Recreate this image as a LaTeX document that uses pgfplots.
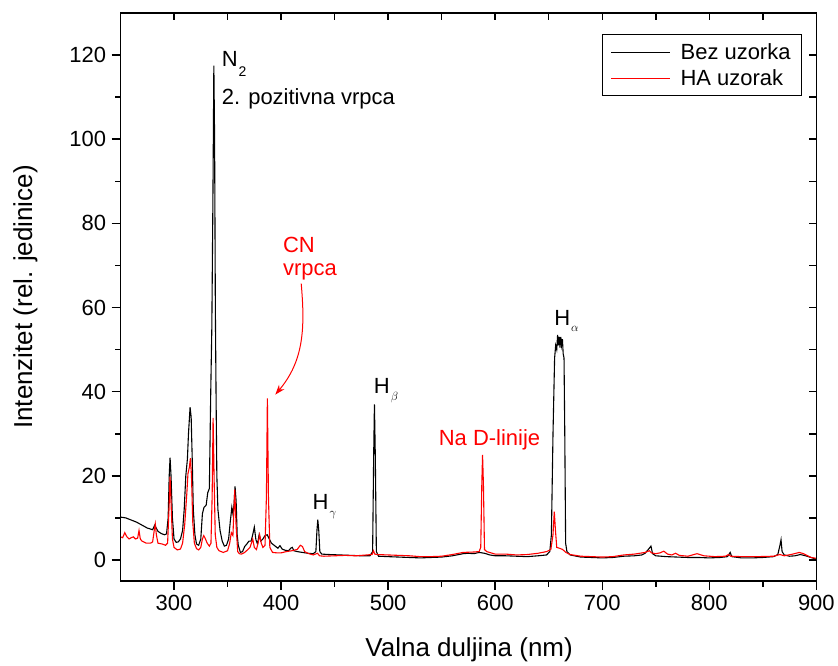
\documentclass[border=0pt]{standalone}
\usepackage{fontspec}
\setmainfont{Liberation Sans}
\usepackage{pgfplots}
\pgfplotsset{compat=1.18}
\usetikzlibrary{arrows.meta}
\definecolor{myred}{RGB}{255,0,0}

\pgfplotstableread{
x y
250 10.2
255 10.0
260 9.5
265 9.0
270 8.3
275 7.6
280 7.2
282 8.3
285 6.8
288 6.3
291 6.0
293 6.2
294.5 10
295.5 20
296.3 24.3
297.2 20
298.5 10
300 5.0
302 4.2
304 4.3
306 5.0
308 7
309.5 12
311 20
312.5 24
313.5 30
315 36.3
316 34
317 24
318 12
319.5 6
321 3.8
323 3.5
325 5
326.5 11
328 12.5
330 13
331.5 16
333 17
334.3 40
335.3 55
336.3 85
337.2 117.5
337.9 100
338.6 60
339.3 38
340 20
341 12
343 7
345 4.5
347 3.3
349 3.5
351 5
352.5 9
354 12.5
355 11
356 13
357 17.5
358 14
359 6
360 3.5
362 1.8
364 2
366 3.2
368 3.8
370 4.5
372 4.5
373.5 6
375 7.8
376.5 4.8
378 3.8
379.5 6
381 4.5
383 5
385 5.8
387 6
389 5
391 4
393 3.6
395 3.2
397 2.8
399 3.4
401 2.6
404 2.3
407 2.2
409 2.8
410.5 3.0
412 2.2
415 2.0
420 1.8
425 1.6
430 1.5
432.5 2
433.5 7
434.3 9.6
435.2 7
436.2 2
438 1.4
445 1.3
455 1.2
465 1.1
475 1.0
483 1.0
485.5 2
486.5 25
487.2 37
488 25
489 2
491 0.9
500 0.8
510 0.7
520 0.6
530 0.5
540 0.6
550 0.7
560 1.0
570 1.5
575 1.6
580 1.5
585 1.8
590 1.6
595 1.2
600 1.0
610 1.0
620 0.9
630 0.8
640 1.0
648 1.2
651 2
652.5 6
654 30
655.5 48
656.5 51
657.5 50
658.3 53.5
659 51
659.8 53
660.5 50.5
661.3 53
662 51
662.8 52.5
663.5 49
664.3 48
665 30
665.8 4
667 2
670 1.2
680 0.7
690 0.6
700 0.5
710 0.6
720 0.9
730 1.0
737 1.2
740 1.6
743 2.5
745.5 3.3
747 1.5
750 1.0
760 0.8
770 0.7
780 0.6
790 0.6
800 0.5
810 0.6
817 0.8
819.5 1.8
821 0.8
830 0.5
840 0.5
850 0.6
860 0.8
864 1.3
866 3.5
867 4.8
868 2
870 1.2
875 0.9
880 1.0
885 1.3
890 1.0
895 0.6
900 0.2
}\bez

\pgfplotstableread{
x y
250 5.5
252 5.3
254 6.5
256 5.5
258 5.0
260 5.3
262 5.5
264 5.0
266 5.2
267.3 7.0
268.5 5.0
270 4.5
274 4.0
278 4.0
280 4.3
281.5 7
282.5 8.6
283.5 6
285 4
289 3.8
292 3.5
294 4
295.3 12
296.3 19.8
297.3 13
298.5 5
300 3
303 2.4
306 2.6
308 4
310 8.5
312 16
313 20.5
314.3 22
315.3 24.2
316.3 20
317.5 9
319 4
321 2.7
323 2.4
325 3
326.5 5
327.8 5.8
329 5.2
331 4
333 3.3
334.5 4
335.6 15
336.5 33.8
337.4 20
338.5 6
340 3
342 2.2
346 1.8
350 2.2
352 4
353.5 6.5
355 5.8
356.7 16.7
358 8
359.5 2
361 1.5
363 1.4
366 1.8
369 2.5
371 3
373.5 5
375 3
377 2.5
378.5 4
380 6
381.5 4
383 3
385 3.5
386.3 15
387.2 38.4
388.2 15
389.5 3
392 1.8
396 1.7
400 1.7
405 2
410 2.2
415 2.5
418 3.5
420 3.2
422 2.0
426 1.5
430 1.2
434 1.6
436 1.0
440 0.9
450 1.0
460 1.1
470 1.0
480 1.2
485 1.3
486.3 2.2
487.5 1.4
490 1.3
500 1.2
510 1.1
520 1.0
530 0.8
540 0.8
550 0.9
560 1.3
570 1.8
580 1.9
585 2.0
586.5 3
587.5 18
588.2 25
589 18
590 2.5
592 2
600 1.4
610 1.4
620 1.2
630 1.3
640 1.6
648 2
652 2.5
654 6
655.2 11.5
656.3 7
657.5 3
660 2.8
663 2.5
666 1.8
670 1.3
680 0.9
690 0.8
700 0.7
710 0.8
720 1.2
730 1.4
735 1.6
740 1.8
744 2.2
746 1.7
750 1.5
754 1.7
757.5 2.1
761 1.4
765 1.2
768.5 1.6
772 1.1
780 0.9
788.5 1.5
795 1.0
805 0.8
815 0.9
818 1.3
820 0.9
830 0.8
845 0.8
860 0.9
866 1.3
870 1.0
878 1.4
884 1.8
888 1.5
895 0.6
900 0.4
}\ha

\begin{document}
\begin{tikzpicture}
\begin{axis}[
  scale only axis, width=697pt, height=569pt,
  xmin=250, xmax=900, ymin=-5, ymax=130,
  xtick={300,400,...,900}, ytick={0,20,...,120},
  minor x tick num=1, minor y tick num=1,
  xtick pos=left, ytick pos=left,
  tick align=outside,
  major tick length=9pt, minor tick length=5.5pt,
  tick style={line width=1.5pt, black},
  axis line style={line width=1.6pt},
  tick label style={font=\fontsize{22}{26}\selectfont},
  xticklabel style={yshift=-2pt},
  yticklabel style={xshift=-2pt},
  /pgf/number format/assume math mode=true,
  label style={font=\fontsize{26}{30}\selectfont},
  xlabel={Valna duljina (nm)},
  ylabel={Intenzitet (rel. jedinice)},
  xlabel style={at={(axis description cs:0.501,-0.133)}, anchor=base},
  ylabel style={at={(axis description cs:-0.127,0.5)}, anchor=base},
  clip=false,
  legend style={at={(axis description cs:0.9785,0.9626)}, anchor=north east,
    draw=black, line width=0.8pt, font=\fontsize{22}{26}\selectfont,
    inner xsep=8.5pt, inner ysep=7pt, row sep=4.5pt,
    /tikz/every odd column/.append style={column sep=8pt}},
  legend cell align=left,
  legend image code/.code={\path (0pt,0pt) -- (7pt,0pt);\draw[#1] (7pt,0pt) -- (59pt,0pt);},
]
\addplot[black, line width=1.1pt] table[x=x,y=y] {\bez};
\addlegendentry{Bez uzorka}
\addplot[myred, line width=1.1pt] table[x=x,y=y] {\ha};
\addlegendentry{HA uzorak}

\node[anchor=base west, inner sep=0pt, font=\fontsize{22}{26}\selectfont] at (axis cs:344.5,117.3) {N\kern1pt\raisebox{-10pt}{\fontsize{14}{14}\selectfont 2}};
\node[anchor=base west, inner sep=0pt, font=\fontsize{22}{26}\selectfont] at (axis cs:344.5,108.3) {2. pozitivna vrpca};
\node[anchor=base west, inner sep=0pt, font=\fontsize{22}{26}\selectfont, text=myred] at (axis cs:401.7,73.1) {CN};
\node[anchor=base west, inner sep=0pt, font=\fontsize{22}{26}\selectfont, text=myred] at (axis cs:401.7,67.6) {vrpca};
\draw[myred, line width=1pt, -{Stealth[length=10pt,width=7pt]}] (axis cs:418.8,65.7) to[out=-85,in=50] (axis cs:394.6,39.3);
\node[anchor=base west, inner sep=0pt, font=\fontsize{22}{26}\selectfont, text=myred] at (axis cs:547.2,27.1) {Na D-linije};
\node[anchor=base west, inner sep=0pt, font=\fontsize{22}{26}\selectfont] at (axis cs:429.3,12.1) {H\kern1pt\raisebox{-7pt}{\fontsize{13}{13}\selectfont$\gamma$}};
\node[anchor=base west, inner sep=0pt, font=\fontsize{22}{26}\selectfont] at (axis cs:486.6,39.5) {H\kern1pt\raisebox{-7pt}{\fontsize{13}{13}\selectfont$\beta$}};
\node[anchor=base west, inner sep=0pt, font=\fontsize{22}{26}\selectfont] at (axis cs:655.1,55.7) {H\kern1pt\raisebox{-6pt}{\fontsize{13}{13}\selectfont$\alpha$}};
\end{axis}
\begin{axis}[
  scale only axis, width=697pt, height=569pt,
  xmin=250, xmax=900, ymin=-5, ymax=130,
  xtick={300,400,...,900}, ytick={0,20,...,120},
  minor x tick num=1, minor y tick num=1,
  xtick pos=right, ytick pos=right,
  tick align=inside,
  major tick length=7pt, minor tick length=7pt,
  tick style={line width=1.5pt, black},
  axis line style={line width=1.6pt},
  xticklabels={}, yticklabels={},
]
\end{axis}
\path ([xshift=-120.7pt,yshift=-81pt]current axis.south west) rectangle ([xshift=20.5pt,yshift=13pt]current axis.north east);
\end{tikzpicture}
\end{document}
